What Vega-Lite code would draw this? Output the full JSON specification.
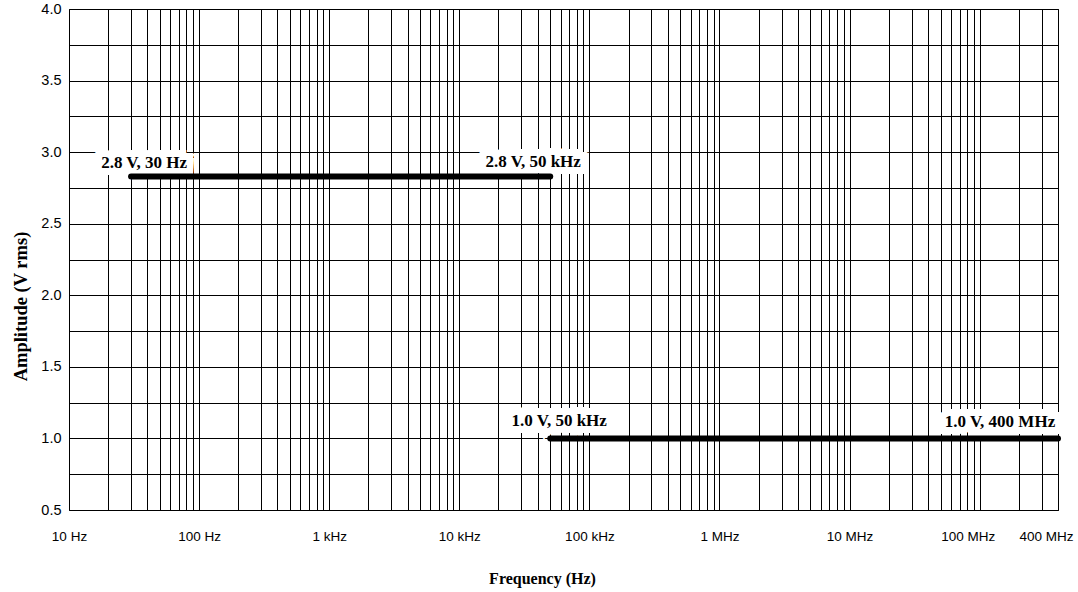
{
  "$schema": "https://vega.github.io/schema/vega-lite/v6.json",
  "autosize": {"type": "none"},
  "width": 989,
  "height": 501,
  "padding": {"left": 69, "top": 9, "right": 20, "bottom": 82},
  "background": "white",
  "view": {"stroke": "black", "strokeWidth": 1},
  "datasets": {
    "segments": [
      {"seg": "A", "freq": 30, "amp": 2.83},
      {"seg": "A", "freq": 50000, "amp": 2.83},
      {"seg": "B", "freq": 50000, "amp": 1.0},
      {"seg": "B", "freq": 400000000, "amp": 1.0}
    ],
    "labels": [
      {"id": 1, "text": "2.8 V, 30 Hz", "freq": 30, "amp": 2.83},
      {"id": 2, "text": "2.8 V, 50 kHz", "freq": 50000, "amp": 2.83},
      {"id": 3, "text": "1.0 V, 50 kHz", "freq": 50000, "amp": 1.0},
      {"id": 4, "text": "1.0 V, 400 MHz", "freq": 400000000, "amp": 1.0}
    ]
  },
  "config": {
    "axis": {"labelColor": "black", "titleColor": "black", "domain": false, "ticks": false, "gridColor": "black", "gridOpacity": 1, "gridWidth": 1}
  },
  "encoding": {
    "x": {
      "field": "freq", "type": "quantitative",
      "scale": {"type": "log", "domain": [10, 400000000], "nice": false},
      "axis": {
        "title": "Frequency (Hz)",
        "titleFont": "Liberation Serif", "titleFontWeight": "bold", "titleFontSize": 16,
        "titleX": 473, "titleY": 68, "titleBaseline": "middle",
        "values": [10,20,30,40,50,60,70,80,90,100,200,300,400,500,600,700,800,900,1000,2000,3000,4000,5000,6000,7000,8000,9000,10000,20000,30000,40000,50000,60000,70000,80000,90000,100000,200000,300000,400000,500000,600000,700000,800000,900000,1000000,2000000,3000000,4000000,5000000,6000000,7000000,8000000,9000000,10000000,20000000,30000000,40000000,50000000,60000000,70000000,80000000,90000000,100000000,200000000,300000000,400000000],
        "labelExpr": "datum.value == 10 ? '10 Hz' : datum.value == 100 ? '100 Hz' : datum.value == 1000 ? '1 kHz' : datum.value == 10000 ? '10 kHz' : datum.value == 100000 ? '100 kHz' : datum.value == 1000000 ? '1 MHz' : datum.value == 10000000 ? '10 MHz' : datum.value == 100000000 ? '100 MHz' : datum.value == 400000000 ? '400 MHz' : ''",
        "labelOverlap": false,
        "labelFlush": false,
        "labelFont": "Liberation Sans", "labelFontSize": 13.5,
        "labelPadding": 19,
        "labelOffset": {"condition": {"test": "datum.value == 100000000 || datum.value == 400000000", "value": -12}, "value": 0}
      }
    },
    "y": {
      "field": "amp", "type": "quantitative",
      "scale": {"domain": [0.5, 4], "nice": false, "zero": false},
      "axis": {
        "title": "Amplitude (V rms)",
        "titleFont": "Liberation Serif", "titleFontWeight": "bold", "titleFontSize": 18.5,
        "titleX": -49, "titleY": 297, "titleBaseline": "middle", "titleAngle": -90,
        "values": [0.5,0.75,1,1.25,1.5,1.75,2,2.25,2.5,2.75,3,3.25,3.5,3.75,4],
        "labelExpr": "(datum.value * 4) % 2 == 0 ? format(datum.value, '.1f') : ''",
        "labelFont": "Liberation Sans", "labelFontSize": 14.5,
        "labelPadding": 8,
        "labelOverlap": false
      }
    }
  },
  "layer": [
    {
      "data": {"name": "labels"},
      "transform": [{"filter": "datum.id == 1"}],
      "mark": {"type": "text", "font": "Liberation Serif", "fontWeight": "bold", "fontSize": 17, "align": "center", "baseline": "alphabetic", "dx": 13, "dy": -8, "stroke": "white", "strokeWidth": 14, "fill": "white"},
      "encoding": {"text": {"field": "text"}}
    },
    {
      "data": {"name": "labels"},
      "transform": [{"filter": "datum.id == 2"}],
      "mark": {"type": "text", "font": "Liberation Serif", "fontWeight": "bold", "fontSize": 17, "align": "center", "baseline": "alphabetic", "dx": -17, "dy": -9, "stroke": "white", "strokeWidth": 14, "fill": "white"},
      "encoding": {"text": {"field": "text"}}
    },
    {
      "data": {"name": "labels"},
      "transform": [{"filter": "datum.id == 3"}],
      "mark": {"type": "text", "font": "Liberation Serif", "fontWeight": "bold", "fontSize": 17, "align": "center", "baseline": "alphabetic", "dx": 9, "dy": -12, "stroke": "white", "strokeWidth": 14, "fill": "white"},
      "encoding": {"text": {"field": "text"}}
    },
    {
      "data": {"name": "labels"},
      "transform": [{"filter": "datum.id == 4"}],
      "mark": {"type": "text", "font": "Liberation Serif", "fontWeight": "bold", "fontSize": 17, "align": "center", "baseline": "alphabetic", "dx": -58, "dy": -11, "stroke": "white", "strokeWidth": 14, "fill": "white"},
      "encoding": {"text": {"field": "text"}}
    },
    {
      "data": {"name": "segments"},
      "mark": {"type": "line", "color": "black", "strokeWidth": 6, "strokeCap": "round"},
      "encoding": {"detail": {"field": "seg"}}
    },
    {
      "data": {"name": "labels"},
      "transform": [{"filter": "datum.id == 1"}],
      "mark": {"type": "text", "font": "Liberation Serif", "fontWeight": "bold", "fontSize": 17, "align": "center", "baseline": "alphabetic", "dx": 13, "dy": -8, "color": "black"},
      "encoding": {"text": {"field": "text"}}
    },
    {
      "data": {"name": "labels"},
      "transform": [{"filter": "datum.id == 2"}],
      "mark": {"type": "text", "font": "Liberation Serif", "fontWeight": "bold", "fontSize": 17, "align": "center", "baseline": "alphabetic", "dx": -17, "dy": -9, "color": "black"},
      "encoding": {"text": {"field": "text"}}
    },
    {
      "data": {"name": "labels"},
      "transform": [{"filter": "datum.id == 3"}],
      "mark": {"type": "text", "font": "Liberation Serif", "fontWeight": "bold", "fontSize": 17, "align": "center", "baseline": "alphabetic", "dx": 9, "dy": -12, "color": "black"},
      "encoding": {"text": {"field": "text"}}
    },
    {
      "data": {"name": "labels"},
      "transform": [{"filter": "datum.id == 4"}],
      "mark": {"type": "text", "font": "Liberation Serif", "fontWeight": "bold", "fontSize": 17, "align": "center", "baseline": "alphabetic", "dx": -58, "dy": -11, "color": "black"},
      "encoding": {"text": {"field": "text"}}
    }
  ]
}
